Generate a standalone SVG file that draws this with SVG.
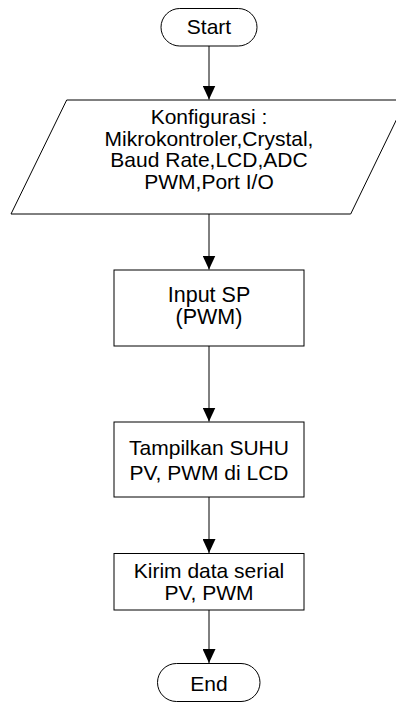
<svg xmlns="http://www.w3.org/2000/svg" width="396" height="702" viewBox="0 0 396 702">
<defs>
<style>
.s{fill:#fff;stroke:#000;stroke-width:1}
.t{font-family:"Liberation Sans",Arial,sans-serif;font-size:21px;fill:#000;text-anchor:middle}
.c{stroke:#000;stroke-width:1;fill:none}
</style>
<marker id="ah" markerWidth="14" markerHeight="13" refX="14" refY="6.5" orient="auto" markerUnits="userSpaceOnUse" viewBox="0 0 14 13">
<path d="M0,0 L14,6.5 L0,13 Z" fill="#000"/>
</marker>
</defs>
<rect width="396" height="702" fill="#fff"/>
<g id="connectors">
<line class="c" x1="209" y1="46" x2="209" y2="99.5" marker-end="url(#ah)"/>
<line class="c" x1="209" y1="214" x2="209" y2="269.5" marker-end="url(#ah)"/>
<line class="c" x1="209" y1="346" x2="209" y2="421.5" marker-end="url(#ah)"/>
<line class="c" x1="209" y1="497" x2="209" y2="553" marker-end="url(#ah)"/>
<line class="c" x1="209" y1="610" x2="209" y2="663" marker-end="url(#ah)"/>
</g>
<g id="start">
<rect class="s" x="161" y="8.5" width="96" height="37.5" rx="18.75" ry="18.75"/>
<text class="t" x="209" y="34">Start</text>
</g>
<g id="config">
<polygon class="s" points="66.7,100 406,100 350.7,214 11,214"/>
<text class="t" x="209" y="124">Konfigurasi :</text>
<text class="t" x="209" y="145.5">Mikrokontroler,Crystal,</text>
<text class="t" x="209" y="167">Baud Rate,LCD,ADC</text>
<text class="t" x="209" y="188.5">PWM,Port I/O</text>
</g>
<g id="input">
<rect class="s" x="114" y="270" width="190" height="76"/>
<text class="t" x="209" y="301.5" style="font-size:21.5px">Input SP</text>
<text class="t" x="209" y="323.5" style="font-size:21.5px">(PWM)</text>
</g>
<g id="tampil">
<rect class="s" x="114" y="422" width="190" height="75"/>
<text class="t" x="209" y="454.5">Tampilkan SUHU</text>
<text class="t" x="209" y="480">PV, PWM di LCD</text>
</g>
<g id="kirim">
<rect class="s" x="114" y="553.5" width="190" height="56.5"/>
<text class="t" x="209" y="578.3">Kirim data serial</text>
<text class="t" x="209" y="600">PV, PWM</text>
</g>
<g id="end">
<rect class="s" x="157.5" y="663.5" width="102.5" height="38" rx="19" ry="19"/>
<text class="t" x="209" y="691">End</text>
</g>
</svg>
